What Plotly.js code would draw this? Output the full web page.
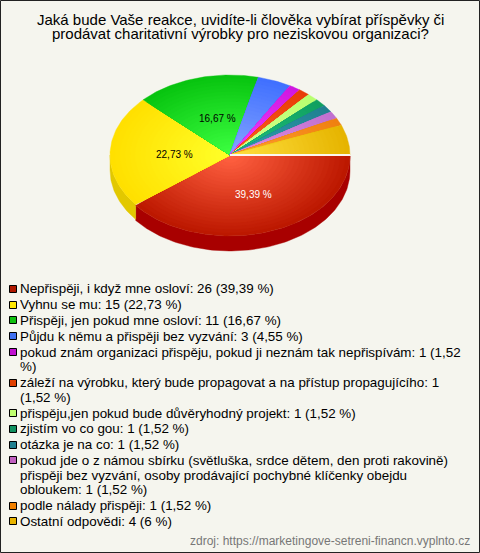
<!DOCTYPE html>
<html><head><meta charset="utf-8">
<script src="https://cdn.plot.ly/plotly-3.0.1.min.js"></script>
<style>html,body{margin:0;padding:0;background:#f5f5ee}</style></head>
<body><div id="c" style="width:480px;height:553px"></div>
<script>
var titleLines = ["Jaká bude Vaše reakce, uvidíte-li člověka vybírat příspěvky či","prodávat charitativní výrobky pro neziskovou organizaci?"];
var counts = [26,15,11,3,1,1,1,1,1,1,1,4];
var percentLabels = ["39,39 %","22,73 %","16,67 %"];
var legendLines = [
 ["Nepřispěji, i když mne osloví: 26 (39,39 %)"],
 ["Vyhnu se mu: 15 (22,73 %)"],
 ["Přispěji, jen pokud mne osloví: 11 (16,67 %)"],
 ["Půjdu k němu a přispěji bez vyzvání: 3 (4,55 %)"],
 ["pokud znám organizaci přispěju, pokud ji neznám tak nepřispívám: 1 (1,52","%)"],
 ["záleží na výrobku, který bude propagovat a na přístup propagujícího: 1","(1,52 %)"],
 ["přispěju,jen pokud bude důvěryhodný projekt: 1 (1,52 %)"],
 ["zjistím vo co gou: 1 (1,52 %)"],
 ["otázka je na co: 1 (1,52 %)"],
 ["pokud jde o z námou sbírku (světluška, srdce dětem, den proti rakovině)","přispěji bez vyzvání, osoby prodávající pochybné klíčenky obejdu","obloukem: 1 (1,52 %)"],
 ["podle nálady přispěji: 1 (1,52 %)"],
 ["Ostatní odpovědi: 4 (6 %)"]];
var sourceText = "zdroj: https://marketingove-setreni-financn.vyplnto.cz";
var topInner = ["#ff6040","#ffff28","#3cff40","#84a4ff","#f040ff","#ff6020","#d8ff90","#20c080","#30a0b0","#e090e0","#ffa030","#ffe040"];
var topOuter = ["#bc1800","#ffe000","#08c410","#4070ff","#d018e0","#e83c08","#b8ff70","#10a060","#208090","#c070d0","#f08010","#e6b400"];
var sideColors = ["#a80000","#e2c800","#06a00c","#3058d0","#a010b0","#c03000","#90d050","#088048","#186070","#9858a8","#c06008","#c09400"];
var swatchColors = ["#b01800","#ffe800","#10c010","#4070f0","#c010d0","#e04000","#c0ff70","#109060","#208090","#c060c0","#f08000","#e8b400"];
var labelColors = ["#ffffff","#000000","#000000"];

var CX=230, CY=155, RX=120, RY=80, DEPTH=15, RINGS=24;
var total = counts.reduce(function(a,b){return a+b;},0);
function hex(c){return [parseInt(c.substr(1,2),16),parseInt(c.substr(3,2),16),parseInt(c.substr(5,2),16)];}
function mix(a,b,t){var p=hex(a),q=hex(b);return 'rgb('+[0,1,2].map(function(k){return Math.round(p[k]+(q[k]-p[k])*t);}).join(',')+')';}
function wedge(a0,a1,dy,s){
  var xs=[CX], ys=[CY+dy], n=Math.max(6,Math.ceil((a1-a0)/0.02));
  for(var i=0;i<=n;i++){var t=a0+(a1-a0)*i/n; xs.push(CX+s*RX*Math.cos(t)); ys.push(CY+dy+s*RY*Math.sin(t));}
  xs.push(CX); ys.push(CY+dy);
  return {x:xs,y:ys};
}
function band(a0,a1,dy){
  a0=Math.max(a0,0); a1=Math.min(a1,Math.PI);
  var xs=[],ys=[],n=Math.max(6,Math.ceil((a1-a0)/0.02)),i,t;
  for(i=0;i<=n;i++){t=a0+(a1-a0)*i/n; xs.push(CX+RX*Math.cos(t)); ys.push(CY+dy+RY*Math.sin(t));}
  for(i=n;i>=0;i--){t=a0+(a1-a0)*i/n; xs.push(CX+RX*Math.cos(t)); ys.push(CY+dy+DEPTH+RY*Math.sin(t));}
  xs.push(xs[0]); ys.push(ys[0]);
  return {x:xs,y:ys};
}
var traces=[], ann=[], shapes=[];
function poly(p,color){
  traces.push({type:'scatter',mode:'lines',x:p.x,y:p.y,fill:'toself',fillcolor:color,line:{width:0.4,color:color},hoverinfo:'skip',showlegend:false});
}
var acc=0;
counts.forEach(function(v,i){
  var a0=acc/total*2*Math.PI; acc+=v; var a1=acc/total*2*Math.PI;
  if(a0<Math.PI) poly(band(a0,a1,i===0?1:0),sideColors[i]);
});
acc=0;
counts.forEach(function(v,i){
  var a0=acc/total*2*Math.PI; acc+=v; var a1=acc/total*2*Math.PI;
  var dy = i===0 ? 1 : 0;
  for(var k=RINGS;k>=1;k--){
    poly(wedge(a0,a1,dy,k/RINGS),mix(topInner[i],topOuter[i],(k-1)/(RINGS-1)));
  }
  if(i<percentLabels.length){
    var m=(a0+a1)/2, r=0.5;
    ann.push({x:CX+4+RX*r*Math.cos(m),y:CY+1.5+RY*r*Math.sin(m),xref:'x',yref:'y',text:percentLabels[i],showarrow:false,
      font:{family:'Liberation Sans, Arial',size:10,color:labelColors[i]}});
  }
});
// pale gap between the pulled-out first slice and the rest
traces.push({type:'scatter',mode:'lines',x:[CX,CX+RX],y:[CY,CY],line:{width:2,color:'#fbf6ee'},hoverinfo:'skip',showlegend:false});

// legend
var FS=13.4, LH=14.7, y=288.8;
legendLines.forEach(function(lines,i){
  shapes.push({type:'rect',xref:'x',yref:'y',x0:9.5,x1:16.5,y0:Math.round(y)-3.5,y1:Math.round(y)+3.5,fillcolor:swatchColors[i],line:{color:'#000',width:1}});
  lines.forEach(function(t){
    ann.push({x:18.5,y:y,xref:'x',yref:'y',xanchor:'left',yanchor:'middle',text:t,showarrow:false,align:'left',borderpad:0,
      font:{family:'Liberation Sans, Arial',size:FS,color:'#000'}});
    y+=LH;
  });
  y+=1.1;
});
ann.push({x:472,y:540.5,xref:'x',yref:'y',xanchor:'right',yanchor:'middle',text:sourceText,showarrow:false,
  font:{family:'Liberation Sans, Arial',size:12,color:'#777'}});
titleLines.forEach(function(t,i){
  ann.push({x:240,y:19+14.5*i,xref:'x',yref:'y',xanchor:'center',yanchor:'middle',text:t,showarrow:false,align:'center',
    font:{family:'Liberation Sans, Arial',size:15,color:'#000'}});
});
shapes.push({type:'rect',xref:'x',yref:'y',x0:0.5,x1:479.5,y0:0.5,y1:552.5,line:{color:'#222',width:1},fillcolor:'rgba(0,0,0,0)'});

Plotly.newPlot('c',traces,{
  width:480,height:553,margin:{l:0,r:0,t:0,b:0},paper_bgcolor:'#f5f5ee',plot_bgcolor:'#f5f5ee',showlegend:false,
  xaxis:{range:[0,480],visible:false,fixedrange:true},
  yaxis:{range:[553,0],visible:false,fixedrange:true},
  annotations:ann,shapes:shapes
},{staticPlot:true,displayModeBar:false});
</script></body></html>
